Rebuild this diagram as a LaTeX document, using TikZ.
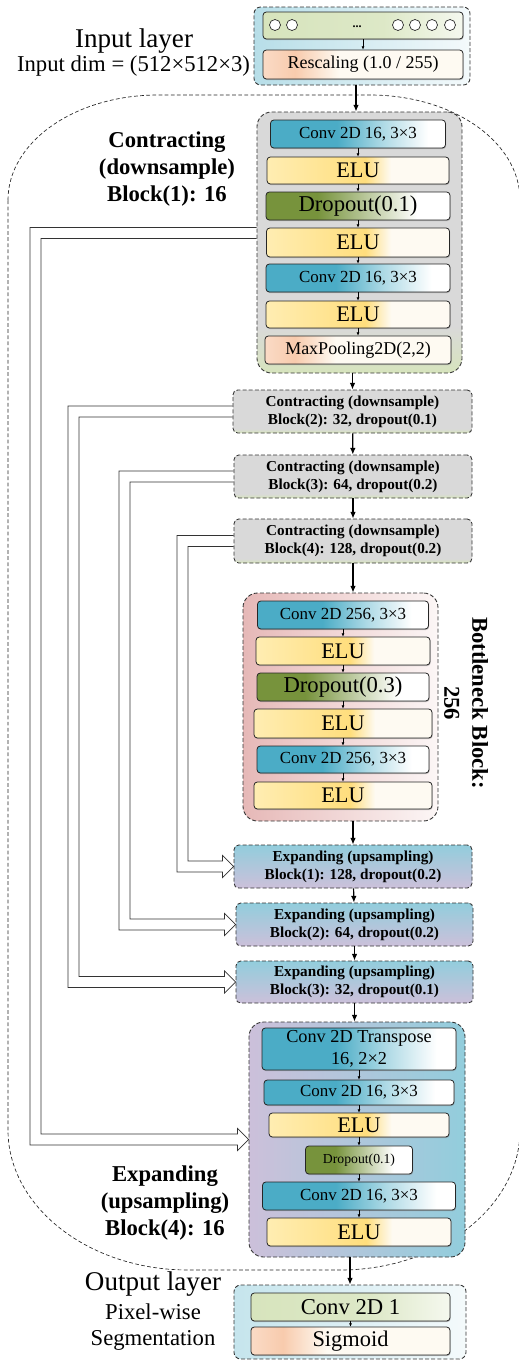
\documentclass[tikz,border=0pt]{standalone}
\usepackage{fontspec}
\setmainfont{Liberation Serif}
\usetikzlibrary{arrows.meta,calc,shadows}

\definecolor{convblue}{RGB}{75,172,198}
\definecolor{eluyellow}{RGB}{255,222,125}
\definecolor{elulight}{RGB}{255,237,178}
\definecolor{cream}{RGB}{254,250,242}
\definecolor{dropgreen}{RGB}{119,147,60}
\definecolor{peach}{RGB}{248,203,173}
\definecolor{lgreen}{RGB}{215,228,189}
\definecolor{lgray}{RGB}{217,217,217}
\definecolor{inblue}{RGB}{183,222,232}
\definecolor{bnpink}{RGB}{230,184,183}
\definecolor{expblue}{RGB}{146,205,220}
\definecolor{explav}{RGB}{204,192,218}

\pgfdeclarehorizontalshading{convshade}{100bp}{color(0bp)=(convblue); color(25bp)=(convblue); color(44bp)=(convblue); color(57bp)=(convblue!45!white); color(70bp)=(white); color(100bp)=(white)}
\pgfdeclarehorizontalshading{elushade}{100bp}{color(0bp)=(elulight); color(25bp)=(elulight); color(52bp)=(eluyellow); color(59bp)=(cream); color(100bp)=(cream)}
\pgfdeclarehorizontalshading{dropshade}{100bp}{color(0bp)=(dropgreen); color(25bp)=(dropgreen); color(39bp)=(dropgreen); color(66bp)=(white); color(100bp)=(white)}
\pgfdeclarehorizontalshading{peachshade}{100bp}{color(0bp)=(peach!70!white); color(25bp)=(peach!70!white); color(33bp)=(peach); color(44bp)=(cream); color(100bp)=(cream)}
\pgfdeclarehorizontalshading{greenshade}{100bp}{color(0bp)=(lgreen); color(25bp)=(lgreen); color(55bp)=(lgreen!85!white); color(75bp)=(lgreen!25!white); color(100bp)=(lgreen!25!white)}
\pgfdeclareverticalshading{blockone}{100bp}{color(0bp)=(lgreen); color(25bp)=(lgreen); color(34bp)=(lgray); color(100bp)=(lgray)}
\pgfdeclareverticalshading{blockgray}{100bp}{color(0bp)=(lgreen); color(25bp)=(lgreen); color(30bp)=(lgray); color(100bp)=(lgray)}

\tikzset{
  wh/.style 2 args={minimum width=#1*0.75pt, minimum height=#2*0.75pt},
  region/.style={draw=black!85, line width=0.5pt, dash pattern=on 2.8pt off 1.8pt},
  cont/.style={draw=black!80, line width=0.65pt, dash pattern=on 3pt off 1.6pt, rounded corners=11pt, inner sep=0pt, align=center},
  layerbox/.style={draw=black!85, line width=0.6pt, rounded corners=2.5pt, inner sep=0pt, align=center,
    drop shadow={shadow xshift=0.5pt, shadow yshift=-0.8pt, opacity=0.45}},
  convbox/.style={shade, shading=convshade, font=\fontsize{12.7}{14}\selectfont},
  elubox/.style={shade, shading=elushade, font=\fontsize{16.7}{18}\selectfont},
  dropbox/.style={shade, shading=dropshade, font=\fontsize{17}{19}\selectfont},
  peachbox/.style={shade, shading=peachshade, font=\fontsize{13.5}{15}\selectfont},
  greenbox/.style={shade, shading=greenshade, font=\fontsize{17}{19}\selectfont},
  blocktext/.style={font=\bfseries\fontsize{11.4}{13.5}\selectfont},
  incircle/.style={circle, draw=black!85, fill=white, line width=0.5pt, minimum size=11*0.75pt, inner sep=0pt},
  flow/.style={-{Latex[length=5pt,width=4.2pt]}, line width=0.9pt},
  thinflow/.style={-{Latex[length=2.4pt,width=2.2pt]}, line width=0.45pt},
  skipline/.style={draw=black!80, line width=0.55pt, line join=miter}
}

\newcommand{\skiplink}[4]{%
  \coordinate (so) at ($(#1.west)+(0,#4-5.5)$);
  \coordinate (si) at ($(#1.west)+(0,#4+5.5)$);
  \coordinate (hb) at ($(#2.west)+(-11,0)$);
  \coordinate (lo) at ($(hb)+(0,5.5)$);
  \coordinate (li) at ($(hb)+(0,-5.5)$);
  \coordinate (xo) at (#3,0);
  \coordinate (xi) at (#3+11,0);
  \draw[skipline] (so) -- (xo |- so) -- (xo |- lo) -- (lo) -- ($(hb)+(0,11)$) -- (#2.west)
    -- ($(hb)+(0,-11)$) -- (li) -- (xi |- li) -- (xi |- si) -- (si);
}

\begin{document}
\begin{tikzpicture}[x=0.75pt,y=-0.75pt]
    \useasboundingbox (0,0) rectangle (518,1361);

    \draw[region] (8,200) .. controls (8,142) and (75,95) .. (158,95) -- (370,95)
        .. controls (453,95) and (520,142) .. (520,200) -- (520,1130)
        .. controls (520,1207) and (439,1270) .. (340,1270) -- (188,1270)
        .. controls (89,1270) and (8,1207) .. (8,1130) -- cycle;

    \begin{scope}[every node/.style={cont}]
        \node (inbox) [wh={216}{78}, rounded corners=5pt, left color=inblue, right color=inblue!15!white] at (362,46) {};
        \node (c1) [wh={205}{261}, shade, shading=blockone] at (359.5,242.5) {};
        \node (b2) [wh={239}{43}, rounded corners=3.5pt, shade, shading=blockgray, blocktext] at (352.5,411.5)
            {Contracting (downsample)\\Block(2): 32, dropout(0.1)};
        \node (b3) [wh={238}{43}, rounded corners=3.5pt, shade, shading=blockgray, blocktext] at (353,476.5)
            {Contracting (downsample)\\Block(3): 64, dropout(0.2)};
        \node (b4) [wh={238}{44}, rounded corners=3.5pt, shade, shading=blockgray, blocktext] at (353,541)
            {Contracting (downsample)\\Block(4): 128, dropout(0.2)};
        \node (bn) [wh={195}{228}, left color=bnpink, middle color=bnpink!55!white, right color=bnpink!12!white] at (340.5,707) {};
        \node (e1) [wh={238}{43}, rounded corners=3.5pt, top color=expblue, bottom color=explav, blocktext] at (353,866.5)
            {Expanding (upsampling)\\Block(1): 128, dropout(0.2)};
        \node (e2) [wh={237}{43}, rounded corners=3.5pt, top color=expblue, bottom color=explav, blocktext] at (354.5,924.5)
            {Expanding (upsampling)\\Block(2): 64, dropout(0.2)};
        \node (e3) [wh={237}{42}, rounded corners=3.5pt, top color=expblue, bottom color=explav, blocktext] at (354.5,982)
            {Expanding (upsampling)\\Block(3): 32, dropout(0.1)};
        \node (e4) [wh={216}{235}, left color=explav, middle color=expblue!90!explav, right color=expblue] at (357,1139.5) {};
        \node (outbox) [wh={232}{74}, rounded corners=5pt, left color=inblue!80!white, right color=inblue!15!white] at (350,1322) {};
    \end{scope}

    \begin{scope}[every node/.style={layerbox}]
        \node (incirc) [greenbox, wh={200}{27}] at (363,25.5) {};
        \node (rescale) [peachbox, wh={200}{29}] at (363,64.5) {Rescaling (1.0 / 255)};
        \node (c1a) [convbox, wh={175}{28}] at (358,134) {Conv 2D 16, 3×3};
        \node (c1b) [elubox, wh={182}{27}] at (358,170.5) {ELU};
        \node (c1c) [dropbox, wh={184}{28}] at (358,206) {Dropout(0.1)};
        \node (c1d) [elubox, wh={183}{29}] at (358,242.5) {ELU};
        \node (c1e) [convbox, wh={184}{28}] at (358,278) {Conv 2D 16, 3×3};
        \node (c1f) [elubox, wh={184}{27}] at (358,314.5) {ELU};
        \node (c1g) [peachbox, wh={186}{28}] at (358,350) {MaxPooling2D(2,2)};
        \node (bn1) [convbox, wh={171}{28}] at (343,615) {Conv 2D 256, 3×3};
        \node (bn2) [elubox, wh={174}{28}] at (343,651) {ELU};
        \node (bn3) [dropbox, wh={172}{28}] at (343,687) {Dropout(0.3)};
        \node (bn4) [elubox, wh={178}{29}] at (343,723.5) {ELU};
        \node (bn5) [convbox, wh={172}{27}] at (343,759.5) {Conv 2D 256, 3×3};
        \node (bn6) [elubox, wh={178}{27}] at (343,795.5) {ELU};
        \node (e4a) [convbox, wh={194}{42}, font=\fontsize{13.7}{17}\selectfont] at (359,1049) {Conv 2D Transpose\\16, 2×2};
        \node (e4b) [convbox, wh={190}{25}] at (359,1092.5) {Conv 2D 16, 3×3};
        \node (e4c) [elubox, wh={180}{24}] at (359,1125) {ELU};
        \node (e4d) [dropbox, wh={107}{28}, font=\fontsize{10.3}{12}\selectfont] at (359,1160) {Dropout(0.1)};
        \node (e4e) [convbox, wh={193}{28}] at (359,1196) {Conv 2D 16, 3×3};
        \node (e4f) [elubox, wh={184}{28}] at (359,1232) {ELU};
        \node (out1) [greenbox, wh={199}{28}] at (350.5,1307) {Conv 2D 1};
        \node (out2) [peachbox, wh={199}{28}, font=\fontsize{16.8}{18}\selectfont] at (350.5,1341) {Sigmoid};
    \end{scope}

    \foreach \cx [count=\i] in {275,292,398,415,432,450}
        \node (ic\i) [incircle] at (\cx,25) {};
    \node (indots) [anchor=base, font=\bfseries\fontsize{9}{10}\selectfont] at (357,27) {...};

    \begin{scope}[every edge/.style={draw,thinflow}]
        \path
            (incirc) edge (rescale)
            (c1a) edge (c1b)
            (c1b) edge (c1c)
            (c1c) edge (c1d)
            (c1d) edge (c1e)
            (c1e) edge (c1f)
            (c1f) edge (c1g)
            (bn1) edge (bn2)
            (bn2) edge (bn3)
            (bn3) edge (bn4)
            (bn4) edge (bn5)
            (bn5) edge (bn6)
            (e4a) edge (e4b)
            (e4b) edge (e4c)
            (e4c) edge (e4d)
            (e4d) edge (e4e)
            (e4e) edge (e4f)
            (out1) edge (out2);
    \end{scope}

    \begin{scope}[every edge/.style={draw,flow}]
        \path
            ($(inbox.south)+(-6,0)$) edge ($(inbox.south |- c1.north)+(-6,0)$)
            (c1.south -| b2.north) edge (b2.north)
            (b2) edge (b3)
            (b3) edge (b4)
            (b4.south) edge (b4.south |- bn.north)
            (bn.south -| e1.north) edge (e1.north)
            (e1) edge (e2)
            (e2) edge (e3)
            (e3.south) edge (e3.south |- e4.north)
            (e4.south -| outbox.north) edge (outbox.north);
    \end{scope}

    \skiplink{c1}{e4}{30}{-9.5}
    \skiplink{b2}{e3}{68}{0}
    \skiplink{b3}{e2}{119}{0}
    \skiplink{b4}{e1}{177}{0}

    \begin{scope}[every node/.style={align=center}]
        \node (inlabel) [font=\fontsize{20.3}{24}\selectfont] at (134,41) {Input layer};
        \node (indim) [font=\fontsize{17}{20}\selectfont] at (133.5,66) {Input dim = (512×512×3)};
        \node (c1label) [font=\bfseries\fontsize{17}{20.25}\selectfont] at (167,169) {Contracting\\(downsample)\\Block(1): 16};
        \node (bnlabel) [rotate=-90, font=\bfseries\fontsize{17}{21}\selectfont] at (466,703) {Bottleneck Block:\\256};
        \node (e4label) [font=\bfseries\fontsize{17}{20.25}\selectfont] at (165,1203) {Expanding\\(upsampling)\\Block(4): 16};
        \node (outlabel) [font=\fontsize{20.3}{24}\selectfont] at (153,1284) {Output layer};
        \node (pixlabel) [font=\fontsize{17}{20}\selectfont] at (153,1327) {Pixel-wise\\Segmentation};
    \end{scope}
\end{tikzpicture}
\end{document}
